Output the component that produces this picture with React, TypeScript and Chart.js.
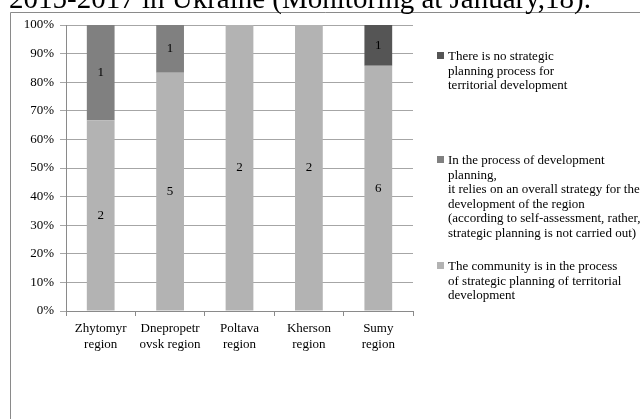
import React, { useEffect, useRef } from "react";
import { Chart, registerables } from "chart.js";

Chart.register(...registerables);

const TITLE = "2015-2017 in Ukraine (Monitoring at January,18).";
const categories: string[][] = [
  ["Zhytomyr", "region"],
  ["Dnepropetr", "ovsk region"],
  ["Poltava", "region"],
  ["Kherson", "region"],
  ["Sumy", "region"],
];
const communityProcess = [2, 5, 2, 2, 6];
const inDevelopmentPlanning = [1, 1, 0, 0, 0];
const noStrategicPlanning = [0, 0, 0, 0, 1];
const yTicks = [0, 10, 20, 30, 40, 50, 60, 70, 80, 90, 100];

const seriesNames: string[][] = [
  ["The community is in the process", "of strategic planning of territorial", "development"],
  [
    "In the process of development",
    "planning,",
    "it relies on an overall strategy for the",
    "development of the region",
    "(according to self-assessment, rather,",
    "strategic planning is not carried out)",
  ],
  ["There is no strategic", "planning process for", "territorial development"],
];
const seriesColors = ["#b3b3b3", "#808080", "#555555"];
const seriesCounts = [communityProcess, inDevelopmentPlanning, noStrategicPlanning];

const FONT = "'Liberation Serif', 'Times New Roman', serif";

export default function App() {
  const ref = useRef<HTMLCanvasElement | null>(null);
  useEffect(() => {
    if (!ref.current) return;
    const totals = categories.map((_, i) => seriesCounts.reduce((s, arr) => s + arr[i], 0));
    const datasets = seriesCounts.map((counts, k) => ({
      label: seriesNames[k].join(" "),
      data: counts.map((c, i) => (c / totals[i]) * 100),
      counts,
      backgroundColor: seriesColors[k],
      borderWidth: 0,
      categoryPercentage: 1,
      barPercentage: 0.4,
    }));

    const decor = {
      id: "decor",
      beforeDraw(chart: any) {
        const ctx = chart.ctx;
        ctx.save();
        ctx.fillStyle = "#ffffff";
        ctx.fillRect(0, 0, chart.width, chart.height);
        ctx.strokeStyle = "#8a8a8a";
        ctx.lineWidth = 1;
        ctx.beginPath();
        ctx.moveTo(10.5, chart.height + 1);
        ctx.lineTo(10.5, 12.5);
        ctx.lineTo(chart.width + 1, 12.5);
        ctx.stroke();
        ctx.fillStyle = "#000";
        ctx.font = `29px ${FONT}`;
        ctx.textAlign = "left";
        ctx.textBaseline = "alphabetic";
        ctx.fillText(TITLE, 9, 8);
        ctx.restore();
      },
      afterDatasetsDraw(chart: any) {
        const ctx = chart.ctx;
        ctx.save();
        ctx.font = `13px ${FONT}`;
        ctx.fillStyle = "#000";
        ctx.textAlign = "center";
        ctx.textBaseline = "middle";
        chart.data.datasets.forEach((ds: any, di: number) => {
          const meta = chart.getDatasetMeta(di);
          meta.data.forEach((el: any, i: number) => {
            const c = ds.counts[i];
            if (!c) return;
            ctx.fillText(String(c), el.x, (el.y + el.base) / 2);
          });
        });
        ctx.restore();
      },
      afterDraw(chart: any) {
        const ctx = chart.ctx;
        ctx.save();
        ctx.font = `13px ${FONT}`;
        ctx.textAlign = "left";
        ctx.textBaseline = "alphabetic";
        const starts = [270, 164, 60];
        const lineH = 14.6;
        for (let k = 2; k >= 0; k--) {
          const y0 = starts[k];
          ctx.fillStyle = seriesColors[k];
          ctx.fillRect(437, y0 - 8, 7, 7);
          ctx.fillStyle = "#000";
          seriesNames[k].forEach((line, j) => {
            ctx.fillText(line, 448, y0 + j * lineH);
          });
        }
        ctx.restore();
      },
    };

    const chart = new Chart(ref.current, {
      type: "bar",
      data: { labels: categories, datasets: datasets as any },
      options: {
        responsive: false,
        animation: false,
        devicePixelRatio: 1,
        layout: { padding: { left: 0, top: 25, right: 227, bottom: 0 } },
        plugins: { legend: { display: false }, tooltip: { enabled: false }, title: { display: false } },
        scales: {
          x: {
            stacked: true,
            afterFit(scale: any) {
              scale.height = 108;
            },
            grid: {
              offset: true,
              drawOnChartArea: false,
              drawTicks: true,
              tickLength: 5,
              color: "#8a8a8a",
            },
            border: { display: true, color: "#8a8a8a" },
            ticks: {
              color: "#000",
              font: { family: FONT, size: 13, lineHeight: 1.25 },
              padding: 4,
              maxRotation: 0,
              autoSkip: false,
            },
          },
          y: {
            stacked: true,
            min: 0,
            max: 100,
            afterFit(scale: any) {
              scale.width = 66;
            },
            afterBuildTicks(scale: any) {
              scale.ticks = yTicks.map((v) => ({ value: v }));
            },
            grid: { color: "#a6a6a6", tickLength: 6, drawTicks: true },
            border: { display: true, color: "#8a8a8a" },
            ticks: {
              color: "#000",
              font: { family: FONT, size: 13 },
              padding: 6,
              callback: (v: any) => `${v}%`,
            },
          },
        },
      },
      plugins: [decor],
    });
    return () => chart.destroy();
  }, []);

  return (
    <div style={{ position: "absolute", left: 0, top: 0, width: 640, height: 419, overflow: "hidden", background: "#fff" }}>
      <canvas ref={ref} width={640} height={419} style={{ display: "block", width: 640, height: 419 }} />
    </div>
  );
}
